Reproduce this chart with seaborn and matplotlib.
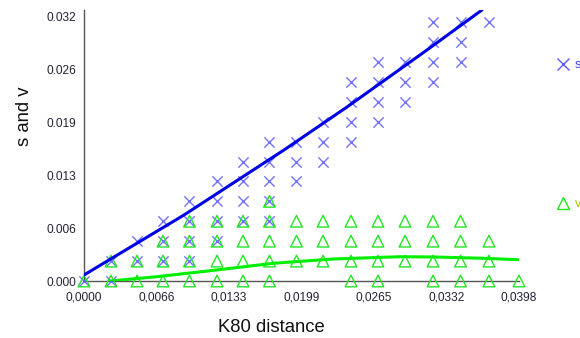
import matplotlib
matplotlib.use("Agg")
import matplotlib.pyplot as plt
from matplotlib.lines import Line2D
import seaborn as sns
import pandas as pd

# ---- data ----
s_dist = [0.0,
          0.00247, 0.00247,
          0.00485, 0.00485,
          0.00723, 0.00723, 0.00723,
          0.00965, 0.00965, 0.00965, 0.00965,
          0.01217, 0.01217, 0.01217, 0.01217,
          0.01455, 0.01455, 0.01455, 0.01455,
          0.01697, 0.01697, 0.01697, 0.01697, 0.01697,
          0.01944, 0.01944, 0.01944,
          0.02187, 0.02187, 0.02187,
          0.02443, 0.02443, 0.02443, 0.02443,
          0.0269, 0.0269, 0.0269, 0.0269,
          0.02937, 0.02937, 0.02937,
          0.03193, 0.03193, 0.03193, 0.03193,
          0.03445, 0.03445, 0.03445,
          0.03705]
s_vals = [0.0,
          0.0, 0.00242,
          0.00242, 0.00484,
          0.00242, 0.00484, 0.00726,
          0.00242, 0.00484, 0.00726, 0.00968,
          0.00484, 0.00726, 0.00968, 0.0121,
          0.00726, 0.00968, 0.0121, 0.01452,
          0.00726, 0.00968, 0.0121, 0.01452, 0.01694,
          0.0121, 0.01452, 0.01694,
          0.01452, 0.01694, 0.01936,
          0.01694, 0.01936, 0.02178, 0.0242,
          0.01936, 0.02178, 0.0242, 0.02662,
          0.02178, 0.0242, 0.02662,
          0.0242, 0.02662, 0.02904, 0.03146,
          0.02662, 0.02904, 0.03146,
          0.03146]

v_dist = [0.0,
          0.00247, 0.00247,
          0.00485, 0.00485,
          0.00723, 0.00723, 0.00723,
          0.00965, 0.00965, 0.00965, 0.00965,
          0.01217, 0.01217, 0.01217, 0.01217,
          0.01455, 0.01455, 0.01455, 0.01455,
          0.01697, 0.01697, 0.01697, 0.01697, 0.01697,
          0.01944, 0.01944, 0.01944,
          0.02187, 0.02187, 0.02187,
          0.02443, 0.02443, 0.02443, 0.02443,
          0.0269, 0.0269, 0.0269, 0.0269,
          0.02937, 0.02937, 0.02937,
          0.03193, 0.03193, 0.03193, 0.03193,
          0.03445, 0.03445, 0.03445, 0.03445,
          0.03705, 0.03705, 0.03705,
          0.0398]
v_vals = [0.0,
          0.0, 0.00242,
          0.0, 0.00242,
          0.0, 0.00242, 0.00484,
          0.0, 0.00242, 0.00484, 0.00726,
          0.0, 0.00242, 0.00484, 0.00726,
          0.0, 0.00242, 0.00484, 0.00726,
          0.0, 0.00242, 0.00484, 0.00726, 0.00968,
          0.00242, 0.00484, 0.00726,
          0.00242, 0.00484, 0.00726,
          0.0, 0.00242, 0.00484, 0.00726,
          0.0, 0.00242, 0.00484, 0.00726,
          0.00242, 0.00484, 0.00726,
          0.0, 0.00242, 0.00484, 0.00726,
          0.0, 0.00242, 0.00484, 0.00726,
          0.0, 0.00242, 0.00484,
          0.0]

# fitted trend curves
s_fit_x = [0.0, 0.00915, 0.0183, 0.02406, 0.03138, 0.03641]
s_fit_y = [0.00073, 0.00802, 0.01592, 0.02114, 0.02807, 0.03293]
v_fit_x = [0.00238, 0.00665, 0.01214, 0.01729, 0.02278, 0.02891, 0.03193, 0.0365, 0.03971]
v_fit_y = [0.0, 0.00052, 0.00134, 0.00215, 0.00267, 0.00295, 0.00292, 0.00276, 0.00259]

x_ticks = [0.0, 0.00663, 0.01327, 0.0199, 0.02653, 0.03317, 0.0398]
x_tick_labels = ["0,0000", "0,0066", "0,0133", "0,0199", "0,0265", "0,0332", "0,0398"]
y_ticks = [0.0, 0.00644, 0.01288, 0.01932, 0.02576, 0.0322]
y_tick_labels = ["0.000", "0.006", "0.013", "0.019", "0.026", "0.032"]

s_df = pd.DataFrame({"dist": s_dist, "val": s_vals})
v_df = pd.DataFrame({"dist": v_dist, "val": v_vals})
s_fit = pd.DataFrame({"dist": s_fit_x, "val": s_fit_y})
v_fit = pd.DataFrame({"dist": v_fit_x, "val": v_fit_y})

# ---- style ----
sns.set_style("white")
plt.rcParams["font.family"] = ["Liberation Sans", "DejaVu Sans"]

S_MARK = "#5a5aff"
V_MARK = "#22e622"
S_LINE = "#0000e6"
V_LINE = "#00ee00"
AX_COL = "#555555"
TXT = "#222233"

fig = plt.figure(figsize=(5.8, 3.38), dpi=100)
ax = fig.add_axes([84 / 580, 1 - 281 / 338, 435 / 580, 271 / 338])

sns.scatterplot(data=s_df, x="dist", y="val", ax=ax, marker="x", s=55,
                color=S_MARK, linewidth=1.0, alpha=0.85, clip_on=False, zorder=3)
sns.scatterplot(data=v_df, x="dist", y="val", ax=ax, marker="^", s=70,
                facecolors="none", edgecolor=V_MARK, linewidth=1.0,
                clip_on=False, zorder=3)
sns.lineplot(data=s_fit, x="dist", y="val", ax=ax, color=S_LINE, linewidth=2.2,
             sort=False, estimator=None, zorder=4)
sns.lineplot(data=v_fit, x="dist", y="val", ax=ax, color=V_LINE, linewidth=2.2,
             sort=False, estimator=None, zorder=4)

ax.set_xlim(0, 0.0398)
ax.set_ylim(0, 0.03293)
ax.set_xticks(x_ticks)
ax.set_xticklabels(x_tick_labels)
ax.set_yticks(y_ticks)
ax.set_yticklabels(y_tick_labels)

for side in ("top", "right"):
    ax.spines[side].set_visible(False)
for side in ("left", "bottom"):
    ax.spines[side].set_color(AX_COL)
    ax.spines[side].set_linewidth(1.0)
    ax.spines[side].set_zorder(2)

ax.tick_params(axis="both", direction="in", length=5, width=1, color="#333333",
               labelsize=8.6, labelcolor=TXT)
ax.tick_params(axis="x", pad=7.5)
ax.tick_params(axis="y", pad=5.5)

ax.set_xlabel("K80 distance", fontsize=13.3, color="#111111")
ax.xaxis.label.set_va("center")
ax.xaxis.set_label_coords(0.431, -0.17)
ax.set_ylabel("s and v", fontsize=13.3, color="#111111")
ax.yaxis.label.set_va("center")
ax.yaxis.set_label_coords(-0.136, 0.609)

# legend entries at the right edge
h_s = Line2D([], [], marker="x", linestyle="none", color=S_MARK, markersize=8,
             markeredgewidth=1.0)
h_v = Line2D([], [], marker="^", linestyle="none", markerfacecolor="none",
             markeredgecolor=V_MARK, markersize=8.5, markeredgewidth=1.0)
leg1 = fig.legend(handles=[h_s], labels=["s"], loc="center left",
                  bbox_to_anchor=(555 / 580, 1 - 65 / 338), frameon=False,
                  fontsize=9, handlelength=1.2, handletextpad=0.4,
                  borderpad=0, borderaxespad=0)
for t in leg1.get_texts():
    t.set_color("#4444ee")
leg2 = fig.legend(handles=[h_v], labels=["v"], loc="center left",
                  bbox_to_anchor=(555 / 580, 1 - 204 / 338), frameon=False,
                  fontsize=9, handlelength=1.2, handletextpad=0.4,
                  borderpad=0, borderaxespad=0)
for t in leg2.get_texts():
    t.set_color("#a8c400")

fig.savefig("out.png", dpi=100)
